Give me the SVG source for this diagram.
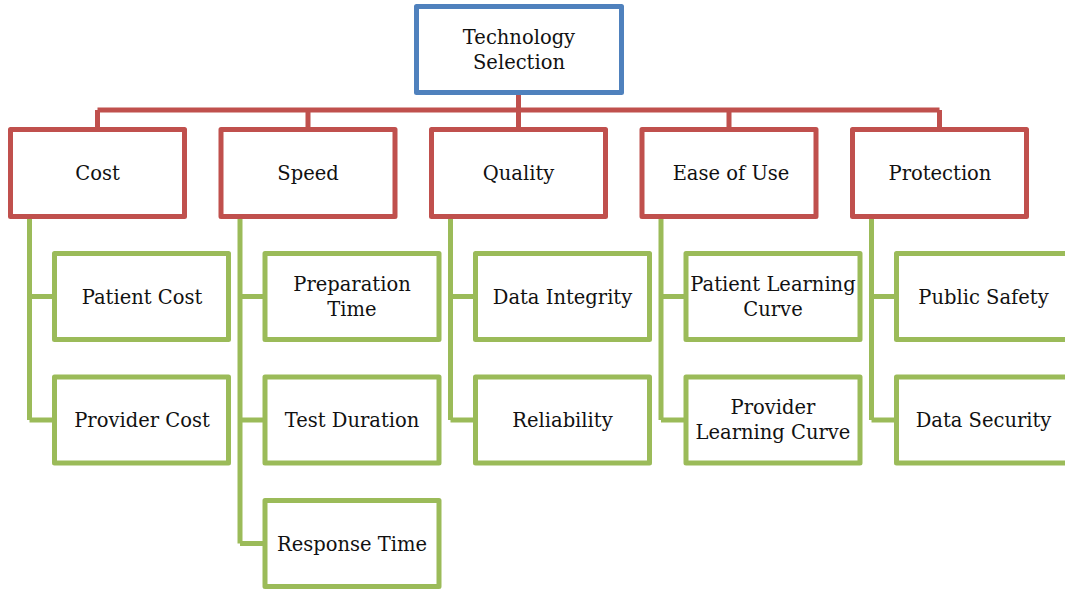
<svg xmlns="http://www.w3.org/2000/svg" width="1065" height="590" viewBox="0 0 1065 590">
<style>
.top{fill:#fff;stroke:#4F81BD;stroke-width:5;stroke-linejoin:round}
.cat{fill:#fff;stroke:#C0504D;stroke-width:5;stroke-linejoin:round}
.sub{fill:#fff;stroke:#9BBB59;stroke-width:5;stroke-linejoin:round}
.rl{fill:none;stroke:#C0504D;stroke-width:5}
.gl{fill:none;stroke:#9BBB59;stroke-width:5}
text{font-family:"DejaVu Serif","Liberation Serif",serif;font-size:19.5px;fill:#111;text-anchor:middle}
</style>
<rect width="1065" height="590" fill="#fff"/>
<g id="connectors">
<path class="rl" d="M518.5 92V110M97.5 110H939.5M97.5 110V129M308 110V129M518.5 110V129M729 110V129M939.5 110V129"/>
<path class="gl" d="M29.5 219V420M29.5 296.5H54.5M29.5 420H54.5"/>
<path class="gl" d="M240 219V543.5M240 296.5H265M240 420H265M240 543.5H265"/>
<path class="gl" d="M450.5 219V420M450.5 296.5H475.5M450.5 420H475.5"/>
<path class="gl" d="M661 219V420M661 296.5H686M661 420H686"/>
<path class="gl" d="M871.5 219V420M871.5 296.5H896.5M871.5 420H896.5"/>
</g>
<g id="n0"><rect class="top" x="416.5" y="6.5" width="205" height="86"/><text x="519" y="44">Technology</text><text x="519" y="69">Selection</text></g>
<g id="n1"><rect class="cat" x="10.5" y="129.5" width="174" height="87"/><text x="97.5" y="180">Cost</text></g>
<g id="n2"><rect class="cat" x="221" y="129.5" width="174" height="87"/><text x="308" y="180">Speed</text></g>
<g id="n3"><rect class="cat" x="431.5" y="129.5" width="174" height="87"/><text x="518.5" y="180">Quality</text></g>
<g id="n4"><rect class="cat" x="642" y="129.5" width="174" height="87"/><text x="731" y="180">Ease of Use</text></g>
<g id="n5"><rect class="cat" x="852.5" y="129.5" width="174" height="87"/><text x="940" y="180">Protection</text></g>
<g id="n6"><rect class="sub" x="54.5" y="253.5" width="174" height="86"/><text x="142" y="303.5">Patient Cost</text></g>
<g id="n7"><rect class="sub" x="54.5" y="377" width="174" height="86"/><text x="142" y="427">Provider Cost</text></g>
<g id="n8"><rect class="sub" x="265" y="253.5" width="174" height="86"/><text x="352" y="291">Preparation</text><text x="352" y="316">Time</text></g>
<g id="n9"><rect class="sub" x="265" y="377" width="174" height="86"/><text x="352" y="427">Test Duration</text></g>
<g id="n10"><rect class="sub" x="265" y="500.5" width="174" height="86"/><text x="352" y="550.5">Response Time</text></g>
<g id="n11"><rect class="sub" x="475.5" y="253.5" width="174" height="86"/><text x="562.5" y="303.5">Data Integrity</text></g>
<g id="n12"><rect class="sub" x="475.5" y="377" width="174" height="86"/><text x="562.5" y="427">Reliability</text></g>
<g id="n13"><rect class="sub" x="686" y="253.5" width="174" height="86"/><text x="773" y="291">Patient Learning</text><text x="773" y="316">Curve</text></g>
<g id="n14"><rect class="sub" x="686" y="377" width="174" height="86"/><text x="773" y="414">Provider</text><text x="773" y="439">Learning Curve</text></g>
<g id="n15"><rect class="sub" x="896.5" y="253.5" width="174" height="86"/><text x="983.5" y="303.5">Public Safety</text></g>
<g id="n16"><rect class="sub" x="896.5" y="377" width="174" height="86"/><text x="983.5" y="427">Data Security</text></g>
</svg>
